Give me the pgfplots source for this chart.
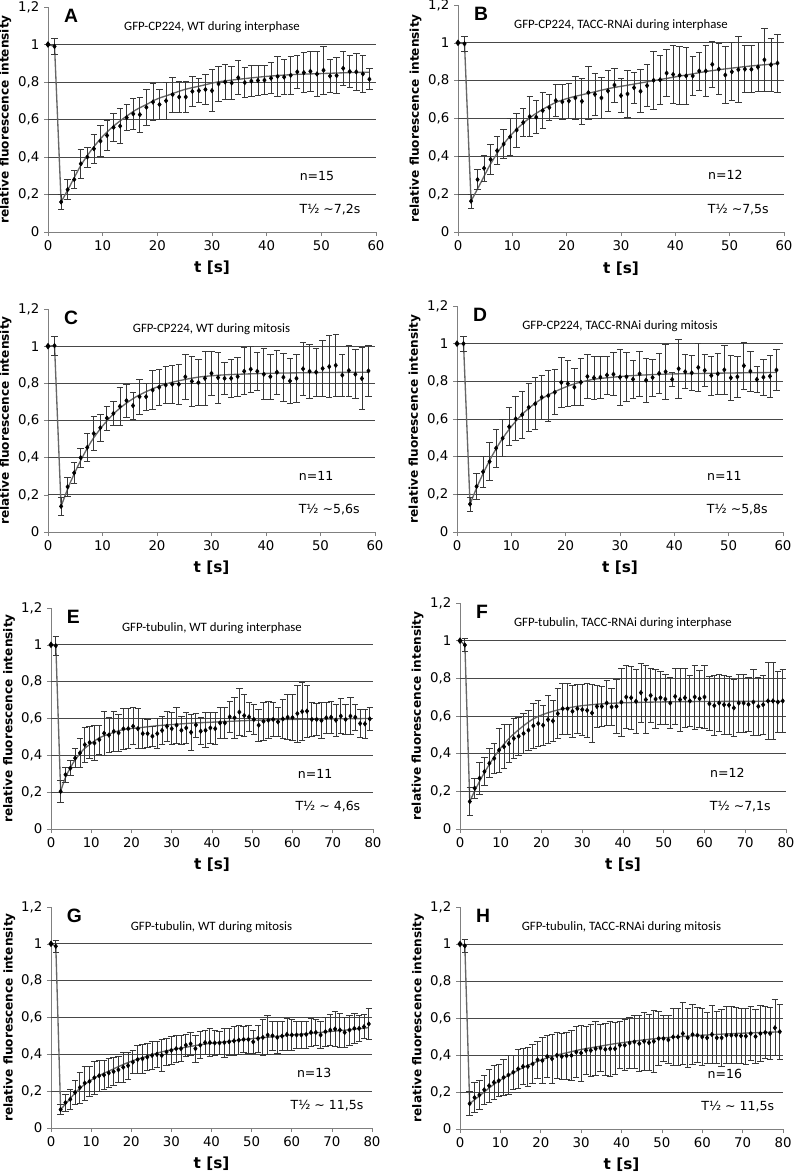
\documentclass[border=0pt]{standalone}
\usepackage{fontspec}
\setmainfont{DejaVu Sans}
\newfontfamily\titlefont{Carlito}
\newfontfamily\letterfont{Liberation Sans}
\usepackage{pgfplots}
\pgfplotsset{compat=1.18}
\usepackage{pgfplotstable}

\colorlet{gridC}{black!72}
\colorlet{fitC}{black!60}
\colorlet{barC}{black!78}

% x y e  (mean and SD)
\pgfplotstableread{
x y e
1.2 0.99 0.044
2.4 0.16 0.042
3.6 0.226 0.053
4.8 0.28 0.047
6.0 0.364 0.076
7.2 0.40 0.053
8.4 0.444 0.078
9.6 0.485 0.083
10.8 0.515 0.079
12.0 0.558 0.073
13.2 0.565 0.094
14.4 0.61 0.07
15.6 0.63 0.084
16.8 0.626 0.094
18.0 0.665 0.096
19.2 0.693 0.1
20.4 0.68 0.08
21.6 0.70 0.1
22.8 0.733 0.094
24.0 0.72 0.081
25.2 0.72 0.083
26.4 0.75 0.08
27.6 0.754 0.065
28.8 0.76 0.08
30.0 0.754 0.113
31.2 0.79 0.094
32.4 0.80 0.095
33.6 0.795 0.086
34.8 0.823 0.09
36.0 0.797 0.079
37.2 0.805 0.081
38.4 0.808 0.079
39.6 0.81 0.077
40.8 0.82 0.083
42.0 0.83 0.105
43.2 0.826 0.094
44.4 0.836 0.1
45.6 0.854 0.087
46.8 0.85 0.108
48.0 0.857 0.106
49.2 0.843 0.122
50.4 0.863 0.127
51.6 0.832 0.089
52.8 0.834 0.095
54.0 0.873 0.089
55.2 0.856 0.087
56.4 0.854 0.1
57.6 0.843 0.099
58.8 0.815 0.057
}\dataA

\pgfplotstableread{
x y e
1.2 0.995 0.04
2.4 0.163 0.037
3.6 0.277 0.054
4.8 0.337 0.07
6.0 0.384 0.078
7.2 0.43 0.074
8.4 0.465 0.075
9.6 0.503 0.096
10.8 0.539 0.09
12.0 0.579 0.076
13.2 0.61 0.105
14.4 0.607 0.088
15.6 0.642 0.096
16.8 0.658 0.068
18.0 0.695 0.085
19.2 0.688 0.091
20.4 0.693 0.09
21.6 0.709 0.114
22.8 0.691 0.121
24.0 0.737 0.14
25.2 0.728 0.11
26.4 0.709 0.108
27.6 0.746 0.107
28.8 0.777 0.09
30.0 0.721 0.09
31.2 0.73 0.125
32.4 0.763 0.082
33.6 0.744 0.113
34.8 0.774 0.11
36.0 0.802 0.154
37.2 0.805 0.128
38.4 0.84 0.123
39.6 0.833 0.154
40.8 0.828 0.155
42.0 0.825 0.151
43.2 0.825 0.105
44.4 0.851 0.1
45.6 0.851 0.136
46.8 0.886 0.12
48.0 0.861 0.136
49.2 0.83 0.152
50.4 0.847 0.153
51.6 0.858 0.174
52.8 0.861 0.125
54.0 0.86 0.124
55.2 0.872 0.13
56.4 0.91 0.167
57.6 0.884 0.142
58.8 0.893 0.153
}\dataB

\pgfplotstableread{
x y e
1.2 1.003 0.05
2.4 0.138 0.048
3.6 0.243 0.049
4.8 0.318 0.058
6.0 0.40 0.05
7.2 0.455 0.075
8.4 0.53 0.092
9.6 0.561 0.074
10.8 0.613 0.065
12.0 0.638 0.067
13.2 0.676 0.104
14.4 0.707 0.089
15.6 0.68 0.072
16.8 0.728 0.093
18.0 0.728 0.072
19.2 0.764 0.105
20.4 0.779 0.097
21.6 0.791 0.1
22.8 0.795 0.104
24.0 0.795 0.106
25.2 0.835 0.119
26.4 0.811 0.135
27.6 0.804 0.124
28.8 0.827 0.147
30.0 0.854 0.119
31.2 0.831 0.138
32.4 0.827 0.087
33.6 0.827 0.103
34.8 0.836 0.106
36.0 0.865 0.127
37.2 0.876 0.125
38.4 0.865 0.103
39.6 0.849 0.138
40.8 0.836 0.12
42.0 0.86 0.119
43.2 0.833 0.128
44.4 0.813 0.12
45.6 0.827 0.13
46.8 0.878 0.141
48.0 0.865 0.144
49.2 0.86 0.13
50.4 0.88 0.15
51.6 0.89 0.166
52.8 0.897 0.168
54.0 0.844 0.113
55.2 0.869 0.137
56.4 0.849 0.132
57.6 0.826 0.165
58.8 0.867 0.139
}\dataC

\pgfplotstableread{
x y e
1.2 1.0 0.04
2.4 0.148 0.037
3.6 0.242 0.067
4.8 0.32 0.082
6.0 0.374 0.1
7.2 0.445 0.1
8.4 0.498 0.098
9.6 0.559 0.1
10.8 0.601 0.117
12.0 0.623 0.125
13.2 0.662 0.129
14.4 0.681 0.138
15.6 0.715 0.118
16.8 0.724 0.135
18.0 0.742 0.12
19.2 0.794 0.135
20.4 0.788 0.123
21.6 0.769 0.098
22.8 0.795 0.125
24.0 0.826 0.116
25.2 0.819 0.116
26.4 0.822 0.11
27.6 0.833 0.102
28.8 0.838 0.114
30.0 0.822 0.149
31.2 0.824 0.129
32.4 0.811 0.102
33.6 0.84 0.118
34.8 0.806 0.117
36.0 0.82 0.098
37.2 0.842 0.105
38.4 0.851 0.145
39.6 0.81 0.035
40.8 0.867 0.157
42.0 0.851 0.09
43.2 0.845 0.095
44.4 0.874 0.125
45.6 0.858 0.083
46.8 0.831 0.104
48.0 0.84 0.111
49.2 0.861 0.129
50.4 0.819 0.12
51.6 0.824 0.111
52.8 0.883 0.126
54.0 0.854 0.106
55.2 0.81 0.071
56.4 0.822 0.096
57.6 0.827 0.113
58.8 0.86 0.107
}\dataD

\pgfplotstableread{
x y e
1.2 0.995 0.053
2.4 0.204 0.06
3.6 0.295 0.04
4.8 0.33 0.04
6.0 0.385 0.05
7.2 0.413 0.077
8.4 0.458 0.095
9.6 0.47 0.086
10.8 0.467 0.095
12.0 0.485 0.08
13.2 0.52 0.12
14.4 0.51 0.095
15.6 0.53 0.11
16.8 0.522 0.1
18.0 0.544 0.11
19.2 0.545 0.11
20.4 0.558 0.1
21.6 0.545 0.11
22.8 0.518 0.08
24.0 0.518 0.077
25.2 0.504 0.055
26.4 0.518 0.08
27.6 0.535 0.078
28.8 0.558 0.08
30.0 0.545 0.086
31.2 0.564 0.097
32.4 0.536 0.077
33.6 0.549 0.082
34.8 0.525 0.1
36.0 0.565 0.065
37.2 0.531 0.073
38.4 0.536 0.095
39.6 0.549 0.082
40.8 0.545 0.088
42.0 0.576 0.083
43.2 0.576 0.086
44.4 0.609 0.086
45.6 0.604 0.11
46.8 0.635 0.127
48.0 0.616 0.113
49.2 0.609 0.077
50.4 0.595 0.082
51.6 0.564 0.086
52.8 0.585 0.104
54.0 0.591 0.1
55.2 0.595 0.09
56.4 0.582 0.077
57.6 0.598 0.105
58.8 0.607 0.123
60.0 0.605 0.125
61.2 0.627 0.155
62.4 0.638 0.156
63.6 0.64 0.14
64.8 0.595 0.093
66.0 0.595 0.087
67.2 0.589 0.098
68.4 0.604 0.084
69.6 0.607 0.088
70.8 0.591 0.086
72.0 0.613 0.095
73.2 0.595 0.082
74.4 0.613 0.1
75.6 0.607 0.07
76.8 0.573 0.077
78.0 0.571 0.077
79.2 0.598 0.06
}\dataE

\pgfplotstableread{
x y e
1.2 0.977 0.035
2.4 0.146 0.075
3.6 0.217 0.053
4.8 0.27 0.084
6.0 0.305 0.075
7.2 0.349 0.077
8.4 0.375 0.082
9.6 0.419 0.116
10.8 0.437 0.117
12.0 0.454 0.1
13.2 0.481 0.107
14.4 0.493 0.1
15.6 0.507 0.106
16.8 0.525 0.106
18.0 0.548 0.119
19.2 0.56 0.123
20.4 0.551 0.106
21.6 0.581 0.128
22.8 0.574 0.108
24.0 0.613 0.132
25.2 0.639 0.134
26.4 0.639 0.134
27.6 0.625 0.136
28.8 0.639 0.13
30.0 0.634 0.136
31.2 0.63 0.144
32.4 0.616 0.154
33.6 0.651 0.11
34.8 0.651 0.107
36.0 0.669 0.121
37.2 0.648 0.099
38.4 0.651 0.144
39.6 0.674 0.18
40.8 0.701 0.167
42.0 0.697 0.167
43.2 0.678 0.172
44.4 0.724 0.158
45.6 0.687 0.18
46.8 0.709 0.145
48.0 0.69 0.156
49.2 0.697 0.141
50.4 0.69 0.132
51.6 0.669 0.136
52.8 0.704 0.148
54.0 0.687 0.167
55.2 0.697 0.157
56.4 0.68 0.136
57.6 0.701 0.17
58.8 0.692 0.151
60.0 0.701 0.167
61.2 0.665 0.143
62.4 0.655 0.158
63.6 0.669 0.15
64.8 0.66 0.156
66.0 0.658 0.153
67.2 0.643 0.15
68.4 0.669 0.154
69.6 0.669 0.154
70.8 0.662 0.145
72.0 0.674 0.176
73.2 0.651 0.154
74.4 0.66 0.156
75.6 0.68 0.205
76.8 0.68 0.204
78.0 0.674 0.163
79.2 0.68 0.165
}\dataF

\pgfplotstableread{
x y e
1.2 0.987 0.032
2.4 0.10 0.028
3.6 0.138 0.046
4.8 0.156 0.055
6.0 0.193 0.064
7.2 0.22 0.084
8.4 0.244 0.092
9.6 0.253 0.083
10.8 0.273 0.089
12.0 0.284 0.083
13.2 0.288 0.078
14.4 0.299 0.078
15.6 0.306 0.076
16.8 0.316 0.071
18.0 0.33 0.083
19.2 0.339 0.073
20.4 0.358 0.061
21.6 0.372 0.078
22.8 0.376 0.078
24.0 0.385 0.073
25.2 0.394 0.075
26.4 0.40 0.069
27.6 0.394 0.088
28.8 0.413 0.073
30.0 0.422 0.076
31.2 0.431 0.073
32.4 0.431 0.072
33.6 0.45 0.06
34.8 0.457 0.062
36.0 0.431 0.073
37.2 0.45 0.073
38.4 0.464 0.067
39.6 0.464 0.075
40.8 0.462 0.069
42.0 0.462 0.062
43.2 0.464 0.078
44.4 0.468 0.072
45.6 0.473 0.081
46.8 0.477 0.078
48.0 0.481 0.069
49.2 0.481 0.078
50.4 0.468 0.064
51.6 0.486 0.073
52.8 0.492 0.096
54.0 0.505 0.106
55.2 0.501 0.08
56.4 0.492 0.087
57.6 0.499 0.078
58.8 0.508 0.087
60.0 0.505 0.083
61.2 0.505 0.073
62.4 0.505 0.073
63.6 0.508 0.073
64.8 0.519 0.078
66.0 0.519 0.069
67.2 0.505 0.073
68.4 0.523 0.078
69.6 0.532 0.083
70.8 0.538 0.096
72.0 0.532 0.092
73.2 0.519 0.08
74.4 0.532 0.081
75.6 0.541 0.083
76.8 0.541 0.073
78.0 0.55 0.066
79.2 0.565 0.084
}\dataG

\pgfplotstableread{
x y e
1.2 0.99 0.036
2.4 0.137 0.064
3.6 0.17 0.082
4.8 0.184 0.078
6.0 0.212 0.078
7.2 0.234 0.088
8.4 0.252 0.094
9.6 0.261 0.086
10.8 0.279 0.099
12.0 0.292 0.105
13.2 0.307 0.091
14.4 0.325 0.105
15.6 0.338 0.096
16.8 0.338 0.105
18.0 0.352 0.107
19.2 0.374 0.1
20.4 0.37 0.125
21.6 0.392 0.114
22.8 0.38 0.134
24.0 0.398 0.124
25.2 0.392 0.123
26.4 0.396 0.128
27.6 0.398 0.137
28.8 0.416 0.137
30.0 0.411 0.151
31.2 0.425 0.13
32.4 0.425 0.141
33.6 0.434 0.146
34.8 0.438 0.126
36.0 0.431 0.141
37.2 0.434 0.148
38.4 0.434 0.141
39.6 0.453 0.128
40.8 0.453 0.137
42.0 0.465 0.137
43.2 0.471 0.142
44.4 0.462 0.151
45.6 0.474 0.155
46.8 0.467 0.151
48.0 0.474 0.166
49.2 0.489 0.146
50.4 0.489 0.126
51.6 0.482 0.13
52.8 0.498 0.153
54.0 0.498 0.155
55.2 0.516 0.169
56.4 0.493 0.16
57.6 0.511 0.16
58.8 0.507 0.148
60.0 0.498 0.153
61.2 0.493 0.137
62.4 0.511 0.158
63.6 0.493 0.141
64.8 0.493 0.152
66.0 0.507 0.155
67.2 0.507 0.155
68.4 0.507 0.15
69.6 0.504 0.149
70.8 0.502 0.151
72.0 0.516 0.146
73.2 0.50 0.144
74.4 0.516 0.153
75.6 0.522 0.141
76.8 0.516 0.141
78.0 0.547 0.151
79.2 0.526 0.148
}\dataH

\pgfplotsset{
  frap/.style={
    scale only axis, anchor=south west,
    xmin=0, ymin=0, ymax=1.2,
    axis x line=bottom, axis y line=left,
    axis line style={black!50, line width=0.6pt, -},
    tick align=outside, major tick length=3pt,
    tick style={black!50, line width=0.5pt},
    ytick={0,0.2,0.4,0.6,0.8,1,1.2},
    extra y ticks={0.2,0.4,0.6,0.8,1},
    extra y tick labels={},
    extra y tick style={grid=major, major tick length=0pt},
    major grid style={gridC, line width=0.65pt},
    /pgf/number format/use comma,
    /pgf/number format/assume math mode=true,
    tick label style={font=\fontsize{10}{12}\selectfont},
    xlabel={t [s]},
    ylabel={relative fluorescence intensity},
    xlabel style={font=\bfseries\fontsize{11.5}{13}\selectfont, at={(axis description cs:0.5,-0.16)}, anchor=center},
    ylabel style={font=\bfseries\fontsize{9.1}{10}\selectfont, at={(axis description cs:-0.13,0.5)}, anchor=center},
    error bars/error bar style={barC, line width=0.6pt},
    error bars/error mark options={barC, line width=0.6pt, mark size=2.4pt, rotate=90},
  },
  frap60/.style={frap, xmax=60, xtick={0,10,20,30,40,50,60}},
  frap80/.style={frap, xmax=80, xtick={0,10,20,30,40,50,60,70,80}},
  pts/.style={only marks, mark=diamond*, mark size=1.7pt, black,
    error bars/.cd, y dir=both, y explicit},
  fit/.style={fitC, line width=1pt, smooth, no marks},
  pre/.style={fitC, line width=1pt, mark=diamond*, mark size=1.7pt, mark indices={1},
    mark options={black}},
}

\newcommand{\panel}[4]{%
  \node[font=\letterfont\bfseries\fontsize{14.5}{15}\selectfont, anchor=west] at (rel axis cs:0.035,0.962) {#1};
  \node[font=\titlefont\fontsize{9.6}{11}\selectfont] at (rel axis cs:0.5,0.91) {#2};
  \node[font=\fontsize{9.4}{11}\selectfont] at (rel axis cs:0.82,0.25) {#3};
  \node[font=\fontsize{9.4}{11}\selectfont] at (rel axis cs:0.86,0.1) {#4};
}

\begin{document}
\begin{tikzpicture}

% ---- A
\begin{axis}[frap60, at={(36pt,-174pt)}, width=246pt, height=168.75pt]
\addplot[pre] coordinates {(0,1) (1.2,0.99) (2.4,0.16)};
\addplot[fit] coordinates {(2.4,0.16) (4,0.245) (6,0.355) (8,0.44) (10,0.51) (12,0.565) (14,0.61) (16,0.65) (18,0.68) (20,0.71) (22,0.73) (25,0.76) (28,0.78) (31,0.80) (35,0.815) (40,0.83) (45,0.84) (50,0.845) (55,0.85) (58.8,0.852)};
\addplot[pts] table[x=x, y=y, y error=e] {\dataA};
\panel{A}{GFP-CP224, WT during interphase}{n=15}{T½ \textasciitilde7,2s}
\end{axis}

% ---- B
\begin{axis}[frap60, at={(343.5pt,-174pt)}, width=244.5pt, height=170.25pt]
\addplot[pre] coordinates {(0,1) (1.2,0.995) (2.4,0.163)};
\addplot[fit] coordinates {(2.4,0.163) (4,0.25) (6,0.36) (8,0.45) (10,0.52) (12,0.575) (14,0.62) (16,0.655) (18,0.685) (20,0.705) (22,0.72) (25,0.74) (28,0.76) (31,0.775) (34,0.79) (37,0.805) (40,0.82) (43,0.835) (46,0.85) (50,0.865) (54,0.878) (58.8,0.89)};
\addplot[pts] table[x=x, y=y, y error=e] {\dataB};
\panel{B}{GFP-CP224, TACC-RNAi during interphase}{n=12}{T½ \textasciitilde7,5s}
\end{axis}

% ---- C
\begin{axis}[frap60, at={(36pt,-399pt)}, width=245.25pt, height=167.25pt]
\addplot[pre] coordinates {(0,1) (1.2,1.003) (2.4,0.138)};
\addplot[fit] coordinates {(2.4,0.138) (4,0.26) (6,0.385) (8,0.49) (10,0.57) (12,0.635) (14,0.685) (16,0.725) (18,0.755) (20,0.78) (22,0.8) (25,0.82) (28,0.835) (32,0.845) (36,0.85) (42,0.855) (50,0.858) (58.8,0.86)};
\addplot[pts] table[x=x, y=y, y error=e] {\dataC};
\panel{C}{GFP-CP224, WT during mitosis}{n=11}{T½ \textasciitilde5,6s}
\end{axis}

% ---- D
\begin{axis}[frap60, at={(342.75pt,-399pt)}, width=244.5pt, height=169.5pt]
\addplot[pre] coordinates {(0,1) (1.2,1.0) (2.4,0.148)};
\addplot[fit] coordinates {(2.4,0.148) (4,0.26) (6,0.38) (8,0.48) (10,0.56) (12,0.625) (14,0.675) (16,0.715) (18,0.745) (20,0.77) (22,0.79) (25,0.81) (28,0.82) (32,0.83) (38,0.838) (45,0.842) (52,0.845) (58.8,0.847)};
\addplot[pts] table[x=x, y=y, y error=e] {\dataD};
\panel{D}{GFP-CP224, TACC-RNAi during mitosis}{n=11}{T½ \textasciitilde5,8s}
\end{axis}

% ---- E
\begin{axis}[frap80, at={(38.25pt,-621.75pt)}, width=241.5pt, height=165.75pt]
\addplot[pre] coordinates {(0,1) (1.2,0.995) (2.4,0.204)};
\addplot[fit] coordinates {(2.4,0.204) (3.6,0.28) (5,0.34) (6,0.375) (8,0.43) (10,0.465) (12,0.495) (15,0.52) (18,0.54) (22,0.55) (26,0.56) (30,0.567) (35,0.575) (40,0.58) (50,0.59) (60,0.595) (70,0.598) (79.2,0.6)};
\addplot[pts] table[x=x, y=y, y error=e] {\dataE};
\panel{E}{GFP-tubulin, WT during interphase}{n=11}{T½ \textasciitilde{} 4,6s}
\end{axis}

% ---- F
\begin{axis}[frap80, at={(345pt,-621.75pt)}, width=244.5pt, height=169.5pt]
\addplot[pre] coordinates {(0,1) (1.2,0.977) (2.4,0.146)};
\addplot[fit] coordinates {(2.4,0.146) (4,0.22) (6,0.3) (8,0.37) (10,0.43) (12,0.48) (14,0.52) (16,0.555) (18,0.585) (20,0.605) (22,0.62) (24,0.632) (27,0.645) (30,0.655) (35,0.665) (40,0.67) (50,0.675) (60,0.677) (70,0.678) (79.2,0.678)};
\addplot[pts] table[x=x, y=y, y error=e] {\dataF};
\panel{F}{GFP-tubulin, TACC-RNAi during interphase}{n=12}{T½ \textasciitilde7,1s}
\end{axis}

% ---- G
\begin{axis}[frap80, at={(38.25pt,-846pt)}, width=240.75pt, height=165.75pt]
\addplot[pre] coordinates {(0,1) (1.2,0.987) (2.4,0.1)};
\addplot[fit] coordinates {(2.4,0.1) (4,0.14) (6,0.19) (8,0.23) (10,0.26) (12,0.285) (15,0.315) (18,0.345) (21,0.37) (24,0.39) (27,0.41) (30,0.425) (34,0.44) (38,0.455) (42,0.465) (46,0.475) (50,0.485) (55,0.495) (60,0.505) (65,0.515) (70,0.525) (75,0.535) (79.2,0.545)};
\addplot[pts] table[x=x, y=y, y error=e] {\dataG};
\panel{G}{GFP-tubulin, WT during mitosis}{n=13}{T½ \textasciitilde{} 11,5s}
\end{axis}

% ---- H
\begin{axis}[frap80, at={(345pt,-846.75pt)}, width=242.25pt, height=166.5pt]
\addplot[pre] coordinates {(0,1) (1.2,0.99) (2.4,0.137)};
\addplot[fit] coordinates {(2.4,0.137) (4,0.165) (6,0.2) (8,0.235) (10,0.265) (12,0.29) (15,0.325) (18,0.355) (21,0.38) (24,0.4) (27,0.415) (30,0.43) (34,0.445) (38,0.46) (42,0.472) (46,0.483) (50,0.492) (55,0.5) (60,0.507) (65,0.513) (70,0.518) (75,0.522) (79.2,0.525)};
\addplot[pts] table[x=x, y=y, y error=e] {\dataH};
\panel{H}{GFP-tubulin, TACC-RNAi during mitosis}{n=16}{T½ \textasciitilde{} 11,5s}
\end{axis}

\pgfresetboundingbox
\path[use as bounding box] (0pt,0pt) rectangle (595.5pt,-881.25pt);
\end{tikzpicture}
\end{document}
